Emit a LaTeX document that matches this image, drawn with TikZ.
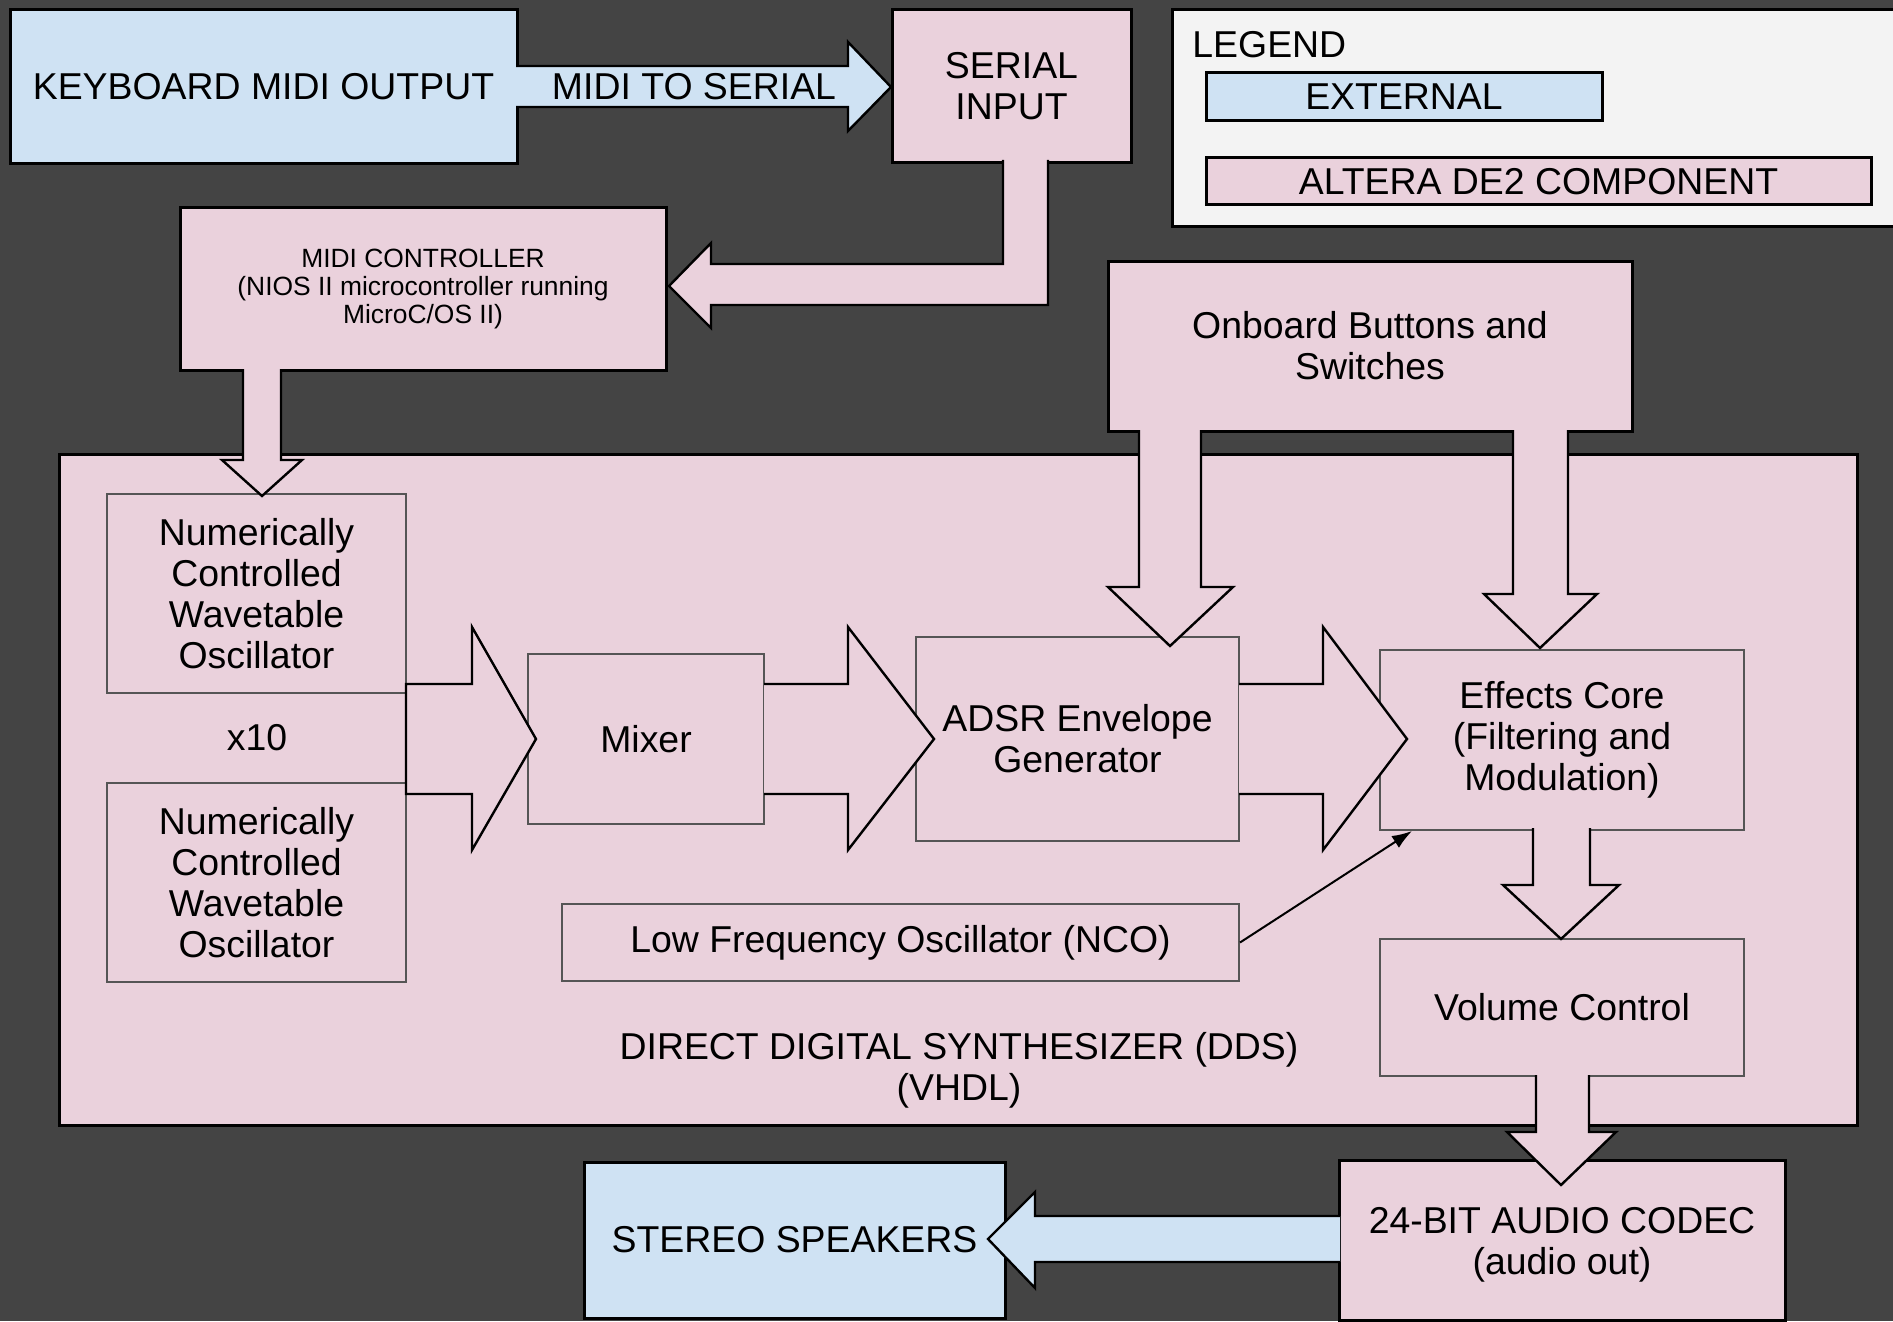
\documentclass[tikz,border=0pt]{standalone}
\usepackage{fontspec}
\setmainfont{Liberation Sans}
\usetikzlibrary{arrows.meta,calc}
\definecolor{bgc}{HTML}{444444}
\definecolor{extblue}{HTML}{CFE2F3}
\definecolor{pinkc}{HTML}{EAD1DC}
\definecolor{legbg}{HTML}{F3F3F3}
\definecolor{innergray}{HTML}{555555}
\newcommand\bigf{\fontsize{18.7}{20.5}\selectfont}
\newcommand\smallf{\fontsize{13.2}{14.2}\selectfont}
\newcommand\blockarrow[2]{\fill[#1] #2 -- cycle; \draw[arrline] #2;}
\tikzset{
  ext/.style={draw=black, line width=1.5pt, fill=extblue, align=center, inner sep=0pt, font=\bigf},
  comp/.style={draw=black, line width=1.5pt, fill=pinkc, align=center, inner sep=0pt, font=\bigf},
  inbox/.style={draw=innergray, line width=1pt, fill=pinkc, align=center, inner sep=0pt, font=\bigf},
  plain/.style={inner sep=0pt, align=center, font=\bigf},
  arrline/.style={draw=black, line width=1.2pt, line join=miter},
  thinarrow/.style={draw=black, line width=1pt, -{Latex[length=10pt,width=7pt]}}
}
\begin{document}
\begin{tikzpicture}[x=0.5pt, y=-0.5pt]
\useasboundingbox (0,0) rectangle (1893,1321);
\fill[bgc] (0,0) rectangle (1893,1321);

% legend
\node[draw=black, line width=1.5pt, fill=legbg, minimum width=364pt, minimum height=108.5pt, inner sep=0pt] (legend) at (1536,118.5) {};
\node[plain, anchor=west] (legtitle) at (1192,45) {LEGEND};
\node[ext, minimum width=198pt, minimum height=24pt] (legext) at (1404,97) {EXTERNAL};
\node[comp, minimum width=332.5pt, minimum height=23.5pt] (legcomp) at (1538.5,181.5) {ALTERA DE2 COMPONENT};

% top boxes
\node[ext, minimum width=253.5pt, minimum height=77pt] (kb) at (263.5,87) {KEYBOARD MIDI OUTPUT};
\node[comp, minimum width=119.5pt, minimum height=76.5pt] (serial) at (1011.5,86.5) {SERIAL\\INPUT};
\node[comp, minimum width=243pt, minimum height=81pt, font=\smallf] (ctrl) at (423,289) {MIDI CONTROLLER\\(NIOS II microcontroller running\\MicroC/OS II)};
\node[comp, minimum width=262pt, minimum height=85pt] (onboard) at (1370,346) {Onboard Buttons and\\Switches};

% DDS
\node[comp, minimum width=899pt, minimum height=335.5pt] (dds) at (958,789.5) {};
\node[plain] (ddslabel) at (959,1070) {DIRECT DIGITAL SYNTHESIZER (DDS)\\(VHDL)};

\node[inbox, minimum width=149.5pt, minimum height=99.5pt] (nco1) at (256.5,593.5) {Numerically\\Controlled\\Wavetable\\Oscillator};
\node[plain] (x10) at (257,738) {x10};
\node[inbox, minimum width=149.5pt, minimum height=99.5pt] (nco2) at (256.5,882.5) {Numerically\\Controlled\\Wavetable\\Oscillator};
\node[inbox, minimum width=118pt, minimum height=85pt] (mixer) at (646,739) {Mixer};
\node[inbox, minimum width=161.5pt, minimum height=102pt] (adsr) at (1077.5,739) {ADSR Envelope\\Generator};
\node[inbox, minimum width=182pt, minimum height=90pt] (fx) at (1562,740) {Effects Core\\(Filtering and\\Modulation)};
\node[inbox, minimum width=338.5pt, minimum height=38.5pt] (lfo) at (900.5,942.5) {Low Frequency Oscillator (NCO)};
\node[inbox, minimum width=182pt, minimum height=68.5pt] (vol) at (1562,1007.5) {Volume Control};

% bottom boxes
\node[comp, minimum width=223pt, minimum height=80pt] (codec) at (1562,1240) {};
\node[plain] (codectext) at (1562,1245) {24-BIT AUDIO CODEC\\(audio out)};
\node[ext, minimum width=210.5pt, minimum height=78pt] (spk) at (794.5,1240) {STEREO SPEAKERS};

% block arrows
\blockarrow{extblue}{(516,66) -- (848,66) -- (848,42) -- (891,87) -- (848,131) -- (848,107) -- (516,107)}
\node[plain] (midilabel) at (694,87) {MIDI TO SERIAL};

\blockarrow{pinkc}{(1048,160) -- (1048,305) -- (711,305) -- (711,328) -- (669,286) -- (711,243) -- (711,264) -- (1003,264) -- (1003,160)}

\blockarrow{pinkc}{(243,369) -- (243,460) -- (222,460) -- (262,496) -- (302,460) -- (281,460) -- (281,369)}

\blockarrow{pinkc}{(1139,430) -- (1139,587) -- (1108,587) -- (1170,646) -- (1233,587) -- (1201,587) -- (1201,430)}
\blockarrow{pinkc}{(1513,430) -- (1513,594) -- (1484,594) -- (1540,648) -- (1597,594) -- (1568,594) -- (1568,430)}

\blockarrow{pinkc}{(406,684) -- (472,684) -- (472,627) -- (536,739) -- (472,850) -- (472,794) -- (406,794) -- cycle}
\blockarrow{pinkc}{(764,684) -- (848,684) -- (848,627) -- (934,739) -- (848,850) -- (848,794) -- (764,794)}
\blockarrow{pinkc}{(1239,684) -- (1323,684) -- (1323,627) -- (1407,739) -- (1323,850) -- (1323,794) -- (1239,794)}

\blockarrow{pinkc}{(1533,828) -- (1533,885) -- (1503,885) -- (1561,939) -- (1619,885) -- (1590,885) -- (1590,828)}
\blockarrow{pinkc}{(1536,1075) -- (1536,1132) -- (1507,1132) -- (1561,1185) -- (1616,1132) -- (1589,1132) -- (1589,1075)}

\blockarrow{extblue}{(1340,1216) -- (1035,1216) -- (1035,1192) -- (988,1239) -- (1035,1288) -- (1035,1262) -- (1340,1262)}

% thin arrow
\draw[thinarrow] (lfo.east) -- ($(fx.south west)+(33,0)$);
\end{tikzpicture}
\end{document}
